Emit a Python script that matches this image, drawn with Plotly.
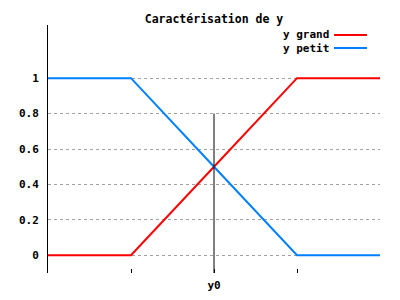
import plotly.graph_objects as go

x_pts = [0, 1, 2, 3, 4]
y_grand = [0, 0, 0.5, 1, 1]
y_petit = [1, 1, 0.5, 0, 0]
x_tickvals = [1, 2, 3]
x_ticktext = ["", "y0", ""]
y_tickvals = [0, 0.2, 0.4, 0.6, 0.8, 1]
y_ticktext = ["0", "0.2", "0.4", "0.6", "0.8", "1"]
marker_x = 2
marker_top = 0.8
names = ["y grand", "y petit"]
colors = ["#ff0000", "#0080ff"]

FONT = dict(family="DejaVu Sans Mono", size=11, color="black", weight="bold")

fig = go.Figure()
fig.add_trace(go.Scatter(x=x_pts, y=y_grand, mode="lines", name=names[0],
                         line=dict(color=colors[0], width=2), showlegend=False))
fig.add_trace(go.Scatter(x=x_pts, y=y_petit, mode="lines", name=names[1],
                         line=dict(color=colors[1], width=2), showlegend=False))

# vertical marker at y0
fig.add_shape(type="line", x0=marker_x, x1=marker_x, y0=-0.1, y1=marker_top,
              xref="x", yref="y", line=dict(color="black", width=1))

# custom legend (text left of sample line)
for i, (n, c) in enumerate(zip(names, colors)):
    ypix = 35 + 13 * i
    yp = 1 - (ypix - 25) / 248
    fig.add_annotation(x=(330 - 48) / 332, y=yp, xref="paper", yref="paper", text=n,
                       showarrow=False, xanchor="right", yanchor="middle", font=FONT,
                       borderpad=0)
    fig.add_shape(type="line", xref="paper", yref="paper",
                  x0=(334 - 48) / 332, x1=(367 - 48) / 332, y0=yp, y1=yp,
                  line=dict(color=c, width=2))

fig.update_layout(
    width=400, height=300,
    margin=dict(l=48, r=20, t=25, b=27),
    paper_bgcolor="white", plot_bgcolor="white",
    font=FONT,
    title=dict(text="Caractérisation de y", x=0.5, xref="paper", y=1 - 19 / 300,
               yanchor="middle", xanchor="center", font=dict(FONT, size=11.5)),
    xaxis=dict(range=[0, 4], tickvals=x_tickvals, ticktext=x_ticktext,
               ticks="inside", ticklen=4, tickcolor="black", tickwidth=1,
               showgrid=False, zeroline=False, showline=False, tickfont=FONT,
               ticklabelstandoff=4, automargin=False),
    yaxis=dict(range=[-0.1, 1.3], tickvals=y_tickvals, ticktext=y_ticktext,
               ticks="", showgrid=True, gridcolor="#a0a0a0", griddash="dot",
               gridwidth=1, zeroline=False, showline=True, linecolor="black",
               linewidth=1, tickfont=FONT, ticklabelstandoff=6, automargin=False),
    showlegend=False,
)

fig.write_html("out.html")
